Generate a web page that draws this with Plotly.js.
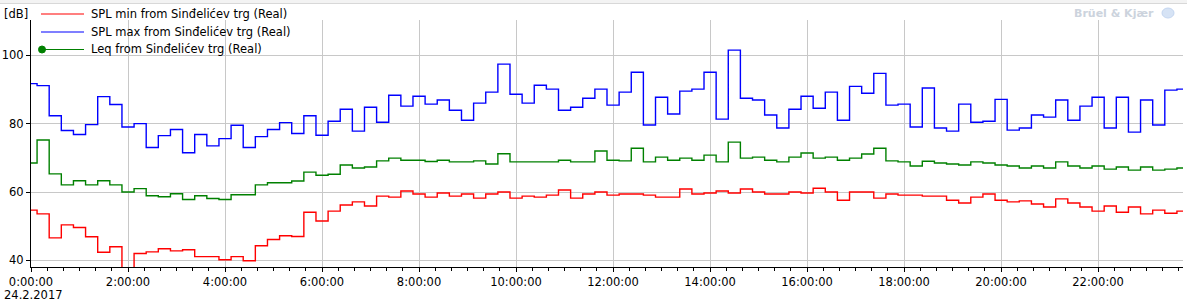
<!DOCTYPE html>
<html><head><meta charset="utf-8">
<script src="https://cdn.plot.ly/plotly-3.0.1.min.js"></script>
<style>html,body{margin:0;padding:0;background:#fff;} #chart{width:1187px;height:304px;}</style>
</head><body><div id="chart"></div>
<script>
// ---- data (15-minute blocks, 24.2.2017) ----
const dayLabel = '24.2.2017';
const dayIso = '2017-02-24';
const stepMinutes = 15;
const splMin = [54.7,53.6,46.6,50.4,49.6,46.9,42.4,44.0,35.0,42.0,42.5,43.4,42.8,43.1,41.1,41.1,40.2,41.1,39.9,44.3,46.1,47.2,47.0,54.1,51.5,54.4,56.2,57.1,55.9,58.8,58.5,60.3,59.4,58.5,59.7,58.8,59.4,58.2,59.4,60.0,58.2,58.8,58.5,59.1,60.6,58.2,59.4,60.0,59.1,59.4,59.4,59.1,58.5,58.5,60.9,59.4,59.7,60.3,59.7,60.9,60.0,59.4,59.4,60.0,59.7,61.1,60.0,57.6,60.0,60.0,58.2,59.4,59.1,59.1,58.8,58.8,57.6,56.8,58.5,59.4,57.6,57.1,57.4,56.5,55.6,58.0,56.8,55.6,54.4,55.9,54.1,55.6,53.6,54.7,53.8,54.4];
const splMax = [91.7,91.1,82.3,78.0,76.8,79.7,87.9,85.6,79.0,80.0,73.0,76.5,78.3,71.5,76.8,73.5,75.6,79.5,73.0,76.2,78.3,80.3,77.1,82.3,76.6,80.7,84.2,77.8,84.8,80.4,88.3,85.1,88.0,85.7,86.9,83.9,81.0,86.0,89.2,97.4,88.6,86.0,91.2,90.1,83.9,84.8,87.4,90.1,85.4,89.2,95.0,79.6,87.7,82.8,89.5,90.1,95.0,81.3,101.5,87.4,86.9,82.5,78.7,84.2,88.0,84.5,89.2,81.0,90.9,88.9,94.7,85.4,85.7,79.0,90.4,78.7,77.8,85.7,80.4,80.7,87.1,78.1,78.7,82.5,81.9,86.9,81.0,85.1,87.7,78.7,87.7,77.5,86.9,79.6,89.8,90.1];
const leq = [68.5,75.2,65.3,62.1,63.3,62.1,63.3,62.1,60.0,61.0,58.9,58.6,59.5,57.8,58.9,58.1,57.8,59.2,59.2,62.1,62.7,62.7,63.2,65.8,64.9,65.2,67.9,67.0,67.3,69.1,69.9,69.3,69.3,68.9,69.3,68.8,68.8,69.1,68.2,71.2,68.8,68.8,68.8,68.8,69.3,68.8,68.8,72.0,69.3,69.1,72.8,68.8,70.2,69.3,69.9,69.3,70.8,68.8,74.6,69.9,70.2,69.3,68.8,70.2,71.4,69.9,70.2,69.3,69.9,71.1,72.8,69.1,68.8,67.6,69.0,68.5,68.2,67.9,68.8,68.5,67.9,67.6,67.0,67.6,67.0,68.8,67.6,67.0,67.6,66.7,67.3,66.4,67.3,66.4,66.7,67.0];
const seriesNames = ['SPL min from Sinđelićev trg (Real)','SPL max from Sinđelićev trg (Real)','Leq from Sinđelićev trg (Real)'];
const seriesColors = ['#ff0000','#0000ff','#008000'];
const yTickVals = [40,60,80,100];
const yUnit = '[dB]';
const brand = 'Brüel & Kjær';

// ---- build ----
function pad(n){return String(n).padStart(2,'0');}
const times = splMax.map((_, i) => {
  const m = i * stepMinutes;
  return dayIso + ' ' + pad(Math.floor(m/60)) + ':' + pad(m%60) + ':00';
});

const W = 1187, H = 304, ML = 31, MR = 4, MT = 20, MB = 37;
const PW = W - ML - MR, PH = H - MT - MB;
const pxX = px => (px - ML) / PW;
const pxY = py => (H - MB - py) / PH;

const font = {family: 'DejaVu Sans, Verdana, sans-serif', size: 11, color: '#000'};
const legendFont = {family: 'DejaVu Sans, Verdana, sans-serif', size: 11.5, color: '#000'};
const allSeries = [splMin, splMax, leq];

const traces = [1, 2, 0].map(k => ({
  type: 'scatter', mode: 'lines', x: times, y: allSeries[k], name: seriesNames[k],
  line: {color: seriesColors[k], width: 1.4, shape: 'hvh'},
  hoverinfo: 'x+y+name', showlegend: false
}));

const legendRows = [14, 32, 49.5];
const shapes = [];
const annotations = [];
legendRows.forEach((py, k) => {
  shapes.push({type: 'line', xref: 'paper', yref: 'paper', x0: pxX(41), x1: pxX(84), y0: pxY(py), y1: pxY(py),
               line: {color: seriesColors[k], width: 1.2}});
  annotations.push({xref: 'paper', yref: 'paper', x: pxX(89), y: pxY(py), xanchor: 'left', yanchor: 'middle',
                    text: seriesNames[k], showarrow: false, font: legendFont});
});
// Leq marker dot in legend
shapes.push({type: 'circle', xref: 'paper', yref: 'paper', xsizemode: 'pixel', ysizemode: 'pixel',
  xanchor: pxX(42), yanchor: pxY(49.5), x0: -3.5, x1: 3.5, y0: -3.5, y1: 3.5,
  fillcolor: seriesColors[2], line: {color: seriesColors[2], width: 1}});
// top window strip
shapes.push({type: 'rect', xref: 'paper', yref: 'paper', x0: pxX(0), x1: pxX(1187), y0: pxY(0), y1: pxY(3.5),
  fillcolor: '#f3f3f3', line: {width: 0}});
shapes.push({type: 'line', xref: 'paper', yref: 'paper', x0: pxX(0), x1: pxX(1187), y0: pxY(3.5), y1: pxY(3.5),
  line: {color: '#d8d8d8', width: 1}});
// watermark icon
shapes.push({type: 'circle', xref: 'paper', yref: 'paper', xsizemode: 'pixel', ysizemode: 'pixel',
  xanchor: pxX(1168), yanchor: pxY(13), x0: -6, x1: 6, y0: -5, y1: 5,
  fillcolor: '#d6e3f5', line: {color: '#c4d6f0', width: 1}});

annotations.push({xref: 'paper', yref: 'paper', x: pxX(2), y: pxY(14), xanchor: 'left', yanchor: 'middle',
  text: yUnit, showarrow: false, font: legendFont});
annotations.push({xref: 'paper', yref: 'paper', x: pxX(2), y: pxY(295), xanchor: 'left', yanchor: 'middle',
  text: dayLabel, showarrow: false, font: legendFont});
annotations.push({xref: 'paper', yref: 'paper', x: pxX(1156), y: pxY(13), xanchor: 'right', yanchor: 'middle',
  text: '<b>' + brand + '</b>', showarrow: false, font: {family: 'DejaVu Sans, sans-serif', size: 11, color: '#ccd3dd'}});

const layout = {
  width: W, height: H,
  margin: {l: ML, r: MR, t: MT, b: MB, pad: 0},
  paper_bgcolor: '#fff', plot_bgcolor: '#fff',
  font: font,
  showlegend: false,
  xaxis: {
    type: 'date',
    range: [times[0], times[times.length - 1]],
    tick0: times[0], dtick: 7200000, tickformat: '%-H:%M:%S',
    showgrid: true, gridcolor: '#c8c8c8', gridwidth: 1,
    showline: true, linecolor: '#000', linewidth: 1,
    ticks: 'outside', ticklen: 4, tickcolor: '#000', tickwidth: 1,
    minor: {dtick: 1200000, tick0: times[0], ticks: 'outside', ticklen: 3, tickcolor: '#000', tickwidth: 1, showgrid: false},
    zeroline: false, tickfont: legendFont, fixedrange: true
  },
  yaxis: {
    range: [38.07, 110.3],
    tickvals: yTickVals, ticktext: yTickVals.map(String),
    showgrid: true, gridcolor: '#c8c8c8', gridwidth: 1,
    showline: true, linecolor: '#000', linewidth: 1,
    ticks: 'outside', ticklen: 4, tickcolor: '#000', tickwidth: 1,
    zeroline: false, tickfont: legendFont, fixedrange: true
  },
  shapes: shapes,
  annotations: annotations
};

Plotly.newPlot('chart', traces, layout, {displayModeBar: false, staticPlot: true});
</script>
</body></html>
